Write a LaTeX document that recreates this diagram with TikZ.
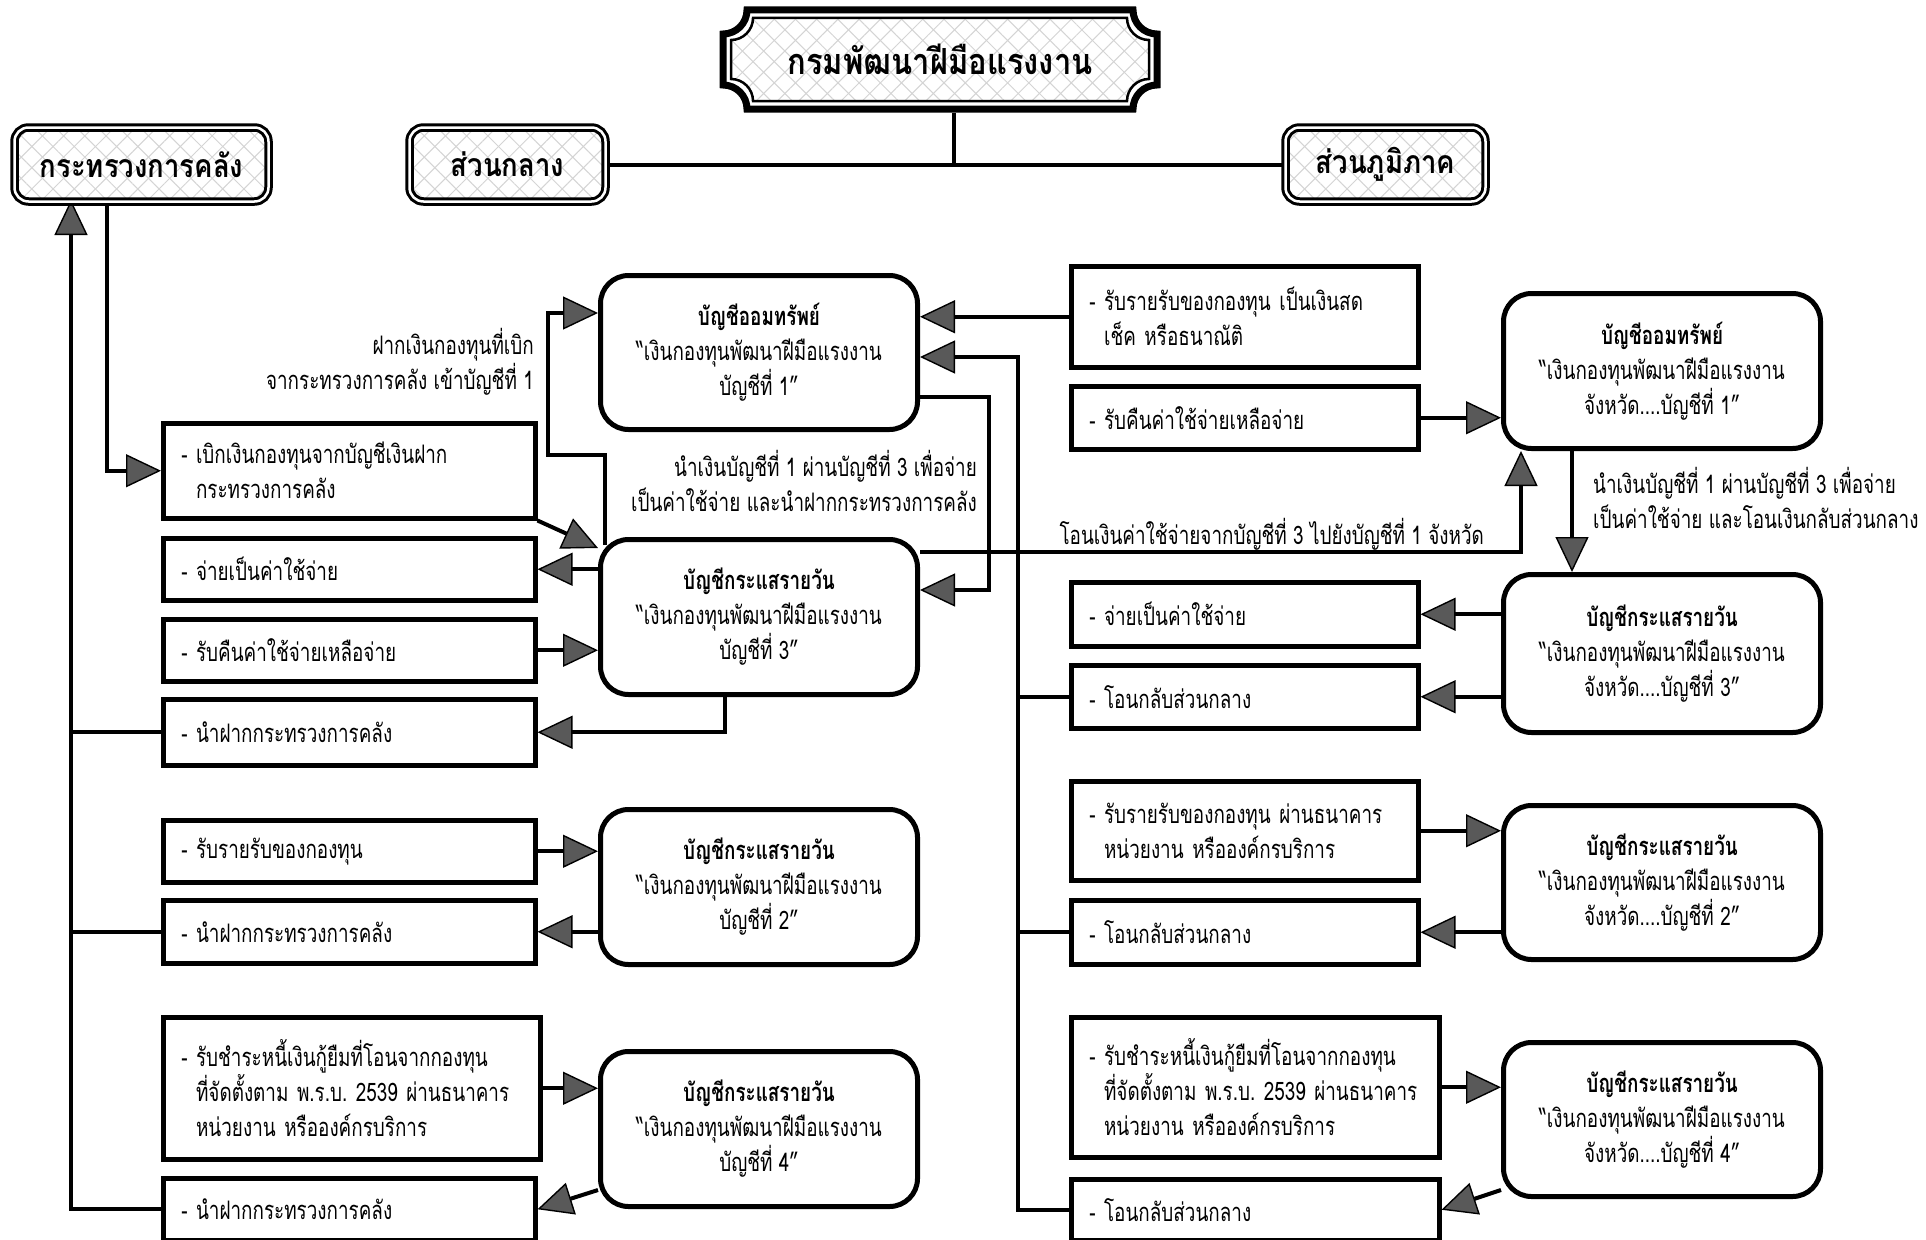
\documentclass[tikz,border=0pt]{standalone}
\usepackage{fontspec}
\setmainfont{Loma}[Script=Thai,FakeStretch=0.74]
\newfontfamily\headfont{Loma}[Script=Thai,FakeStretch=0.86]
\usetikzlibrary{arrows.meta,patterns.meta,backgrounds}
\definecolor{tipgray}{HTML}{595959}
\definecolor{hatchc}{HTML}{D4D4D4}
\newcommand\bodyfont{\frenchspacing\fontsize{25.5}{35}\selectfont}
\begin{document}
\frenchspacing
\begin{tikzpicture}[x=1pt,y=-1pt,
  conn/.style={line width=4pt},
  arr/.style={-{Triangle[length=35pt,width=33pt,line width=1.4pt,fill=tipgray]}},
  lbox/.style={draw,line width=4.5pt,fill=white,anchor=north west,align=left,
    inner xsep=18pt,inner ysep=0pt,text width=#1,font=\bodyfont},
  abox/.style={draw,line width=5pt,rounded corners=28pt,fill=white,anchor=north west,
    align=center,minimum width=317pt,inner sep=0pt,font=\bodyfont},
  hbox/.style={draw,line width=3pt,double=white,double distance=2.5pt,rounded corners=14pt,
    preaction={fill=white},
    preaction={pattern={Lines[angle=45,distance=15pt,line width=1pt]},pattern color=hatchc},
    preaction={pattern={Lines[angle=-45,distance=15pt,line width=1pt]},pattern color=hatchc},
    inner sep=0pt,minimum height=74pt,font=\headfont\bfseries\fontsize{32}{38}\selectfont},
  lbl/.style={font=\bodyfont,inner sep=0pt}
]
\useasboundingbox (0,0) rectangle (1926,1239);

% title plaque
\fill[white] (747,10) -- (1133,10) arc[start angle=180,end angle=90,radius=24] -- (1157,85) arc[start angle=270,end angle=180,radius=24] -- (747,109) arc[start angle=0,end angle=-90,radius=24] -- (723,34) arc[start angle=90,end angle=0,radius=24] -- cycle;
\fill[pattern={Lines[angle=45,distance=15pt,line width=1pt]},pattern color=hatchc] (753,18) -- (1127,18) arc[start angle=180,end angle=90,radius=22] -- (1149,79) arc[start angle=270,end angle=180,radius=22] -- (753,101) arc[start angle=0,end angle=-90,radius=22] -- (731,40) arc[start angle=90,end angle=0,radius=22] -- cycle;
\fill[pattern={Lines[angle=-45,distance=15pt,line width=1pt]},pattern color=hatchc] (753,18) -- (1127,18) arc[start angle=180,end angle=90,radius=22] -- (1149,79) arc[start angle=270,end angle=180,radius=22] -- (753,101) arc[start angle=0,end angle=-90,radius=22] -- (731,40) arc[start angle=90,end angle=0,radius=22] -- cycle;
\draw[line width=7pt] (747,10) -- (1133,10) arc[start angle=180,end angle=90,radius=24] -- (1157,85) arc[start angle=270,end angle=180,radius=24] -- (747,109) arc[start angle=0,end angle=-90,radius=24] -- (723,34) arc[start angle=90,end angle=0,radius=24] -- cycle;
\draw[line width=2.5pt] (753,18) -- (1127,18) arc[start angle=180,end angle=90,radius=22] -- (1149,79) arc[start angle=270,end angle=180,radius=22] -- (753,101) arc[start angle=0,end angle=-90,radius=22] -- (731,40) arc[start angle=90,end angle=0,radius=22] -- cycle;
\node[minimum width=438pt,minimum height=107pt,inner sep=0pt,font=\headfont\bfseries\fontsize{36}{42}\selectfont] (title) at (940,59.5) {กรมพัฒนาฝีมือแรงงาน};

% top boxes
\node[hbox,minimum width=254pt] (K) at (141.5,164.5) {กระทรวงการคลัง};
\node[hbox,minimum width=196pt] (SG) at (507.5,164.5) {ส่วนกลาง};
\node[hbox,minimum width=200pt] (SP) at (1385.5,164.5) {ส่วนภูมิภาค};

% left boxes
\node[lbox=336pt,minimum height=95pt] (B1) at (161,421) {- เบิกเงินกองทุนจากบัญชีเงินฝาก\\\hphantom{- }กระทรวงการคลัง};
\node[lbox=336pt,minimum height=62pt] (B2) at (161,536) {- จ่ายเป็นค่าใช้จ่าย};
\node[lbox=336pt,minimum height=62pt] (B3) at (161,617) {- รับคืนค่าใช้จ่ายเหลือจ่าย};
\node[lbox=336pt,minimum height=66pt] (B4) at (161,697) {- นำฝากกระทรวงการคลัง};
\node[lbox=336pt,minimum height=62pt] (B5) at (161,818) {- รับรายรับของกองทุน};
\node[lbox=336pt,minimum height=63pt] (B6) at (161,898) {- นำฝากกระทรวงการคลัง};
\node[lbox=341pt,minimum height=142pt] (B7) at (161,1015) {- รับชำระหนี้เงินกู้ยืมที่โอนจากกองทุน\\\hphantom{- }ที่จัดตั้งตาม พ.ร.บ. 2539 ผ่านธนาคาร\\\hphantom{- }หน่วยงาน หรือองค์กรบริการ};
\node[lbox=336pt,minimum height=62pt] (B8) at (161,1176) {- นำฝากกระทรวงการคลัง};

% central accounts
\node[abox,minimum height=154pt] (A1) at (598,273) {\textbf{บัญชีออมทรัพย์}\\“เงินกองทุนพัฒนาฝีมือแรงงาน\\บัญชีที่ 1”};
\node[abox,minimum height=155pt] (A3) at (598,537) {\textbf{บัญชีกระแสรายวัน}\\“เงินกองทุนพัฒนาฝีมือแรงงาน\\บัญชีที่ 3”};
\node[abox,minimum height=155pt] (A2) at (598,807) {\textbf{บัญชีกระแสรายวัน}\\“เงินกองทุนพัฒนาฝีมือแรงงาน\\บัญชีที่ 2”};
\node[abox,minimum height=155pt] (A4) at (598,1049) {\textbf{บัญชีกระแสรายวัน}\\“เงินกองทุนพัฒนาฝีมือแรงงาน\\บัญชีที่ 4”};

% right boxes
\node[lbox=311pt,minimum height=101pt] (R1) at (1069,264) {- รับรายรับของกองทุน เป็นเงินสด\\\hphantom{- }เช็ค หรือธนาณัติ};
\node[lbox=311pt,minimum height=63pt] (R2) at (1069,384) {- รับคืนค่าใช้จ่ายเหลือจ่าย};
\node[lbox=311pt,minimum height=64pt] (R3) at (1069,580) {- จ่ายเป็นค่าใช้จ่าย};
\node[lbox=311pt,minimum height=63pt] (R4) at (1069,663) {- โอนกลับส่วนกลาง};
\node[lbox=311pt,minimum height=99pt] (R5) at (1069,779) {- รับรายรับของกองทุน ผ่านธนาคาร\\\hphantom{- }หน่วยงาน หรือองค์กรบริการ};
\node[lbox=311pt,minimum height=64pt] (R6) at (1069,898) {- โอนกลับส่วนกลาง};
\node[lbox=332pt,minimum height=140pt] (R7) at (1069,1015) {- รับชำระหนี้เงินกู้ยืมที่โอนจากกองทุน\\\hphantom{- }ที่จัดตั้งตาม พ.ร.บ. 2539 ผ่านธนาคาร\\\hphantom{- }หน่วยงาน หรือองค์กรบริการ};
\node[lbox=332pt,minimum height=61pt] (R8) at (1069,1177) {- โอนกลับส่วนกลาง};

\node[abox,minimum height=155pt] (RA1) at (1501,291) {\textbf{บัญชีออมทรัพย์}\\“เงินกองทุนพัฒนาฝีมือแรงงาน\\จังหวัด....บัญชีที่ 1”};
\node[abox,minimum height=158pt] (RA3) at (1501,572) {\textbf{บัญชีกระแสรายวัน}\\“เงินกองทุนพัฒนาฝีมือแรงงาน\\จังหวัด....บัญชีที่ 3”};
\node[abox,minimum height=154pt] (RA2) at (1501,803) {\textbf{บัญชีกระแสรายวัน}\\“เงินกองทุนพัฒนาฝีมือแรงงาน\\จังหวัด....บัญชีที่ 2”};
\node[abox,minimum height=154pt] (RA4) at (1501,1040) {\textbf{บัญชีกระแสรายวัน}\\“เงินกองทุนพัฒนาฝีมือแรงงาน\\จังหวัด....บัญชีที่ 4”};

% labels
\node[lbl,align=right,anchor=east] (L1) at (534,362) {ฝากเงินกองทุนที่เบิก\\จากระทรวงการคลัง เข้าบัญชีที่ 1};
\node[lbl,align=right,anchor=east] (L2) at (977,481) {นำเงินบัญชีที่ 1 ผ่านบัญชีที่ 3 เพื่อจ่าย\\เป็นค่าใช้จ่าย และนำฝากกระทรวงการคลัง};
\node[lbl,align=right,anchor=east] (L3) at (1484,534) {โอนเงินค่าใช้จ่ายจากบัญชีที่ 3 ไปยังบัญชีที่ 1 จังหวัด};
\node[lbl,align=left,anchor=west] (L4) at (1593,497.5) {นำเงินบัญชีที่ 1 ผ่านบัญชีที่ 3 เพื่อจ่าย\\เป็นค่าใช้จ่าย และโอนเงินกลับส่วนกลาง};

% helper coordinates
\coordinate (stem) at (954,0);
\coordinate (lx) at (71,0);
\coordinate (kx) at (107,0);
\coordinate (cx) at (1018,0);
\coordinate (rx) at (989,0);
\coordinate (ux) at (1521,0);
\coordinate (vx) at (1572,0);
\coordinate (bx) at (725,0);
\coordinate (j1) at (548,455);
\coordinate (yA1a) at (0,313);
\coordinate (yA1b) at (0,357);
\coordinate (yA1c) at (0,397);
\coordinate (yA3r) at (0,590);
\coordinate (yA3t) at (0,552);

\begin{scope}[on background layer]
\draw[conn] (title.south -| stem) -- (stem |- SG.east);
\draw[conn] (SG.east) -- (SP.west);
% left
\draw[conn,arr,shorten >=-3pt] (B8.west) -| (lx |- K.south);
\draw[conn] (B4.west) -- (lx |- B4.west);
\draw[conn] (B6.west) -- (lx |- B6.west);
\draw[conn,arr] (kx |- K.south) |- (B1.west);
\draw[conn,arr] (B1.south east) -- ([yshift=-11pt]A3.north west);
\draw[conn,arr] (A3.west |- B2.east) -- (B2.east);
\draw[conn,arr] (B3.east) -- (A3.west |- B3.east);
\draw[conn,arr] (bx |- A3.south) |- (B4.east);
\draw[conn,arr] (B5.east) -- (A2.west |- B5.east);
\draw[conn,arr] (A2.west |- B6.east) -- (B6.east);
\draw[conn,arr] (B7.east) -- (A4.west |- B7.east);
\draw[conn,arr] ([yshift=19pt]A4.south west) -- (B8.east);
\draw[conn,arr] ([xshift=7pt,yshift=-8pt]A3.north west) |- (j1) |- (A1.west |- yA1a);
\draw[conn,arr] (R1.west) -- (A1.east |- R1.west);
\draw[conn,arr] (R8.west) -| (cx |- yA1b) -- (A1.east |- yA1b);
\draw[conn] (R4.west) -- (cx |- R4.west);
\draw[conn] (R6.west) -- (cx |- R6.west);
\draw[conn,arr] (A1.east |- yA1c) -| (rx |- yA3r) -- (A3.east |- yA3r);
\draw[conn,arr] (A3.east |- yA3t) -| (ux |- RA1.south);
% right
\draw[conn,arr] (R2.east) -- (RA1.west |- R2.east);
\draw[conn,arr] (vx |- RA1.south) -- (vx |- RA3.north);
\draw[conn,arr] (RA3.west |- R3.east) -- (R3.east);
\draw[conn,arr] (RA3.west |- R4.east) -- (R4.east);
\draw[conn,arr] (R5.east) -- (RA2.west |- R5.east);
\draw[conn,arr] (RA2.west |- R6.east) -- (R6.east);
\draw[conn,arr] (R7.east) -- (RA4.west |- R7.east);
\draw[conn,arr] ([yshift=9pt]RA4.south west) -- (R8.east);
\end{scope}
\end{tikzpicture}
\end{document}
